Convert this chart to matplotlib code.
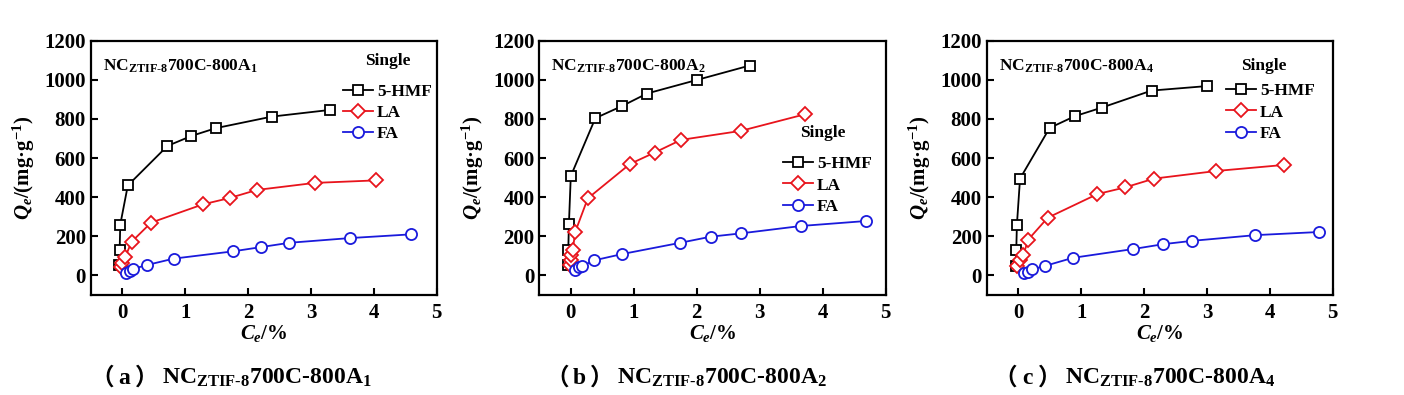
import matplotlib
matplotlib.use('Agg')
import matplotlib.pyplot as plt

plt.rcParams['font.family'] = ['Liberation Serif', 'Noto Sans CJK SC']
plt.rcParams['font.weight'] = 'bold'
plt.rcParams['mathtext.fontset'] = 'custom'
plt.rcParams['mathtext.rm'] = 'Liberation Serif:bold'
plt.rcParams['mathtext.bf'] = 'Liberation Serif:bold'
plt.rcParams['mathtext.it'] = 'Liberation Serif:italic:bold'
plt.rcParams['mathtext.default'] = 'bf'

# data, Ce in %, Qe in mg/g
hmf_x_a1 = [-0.05, -0.04, -0.03, 0.09, 0.72, 1.10, 1.49, 2.38, 3.30]
hmf_y_a1 = [55, 130, 260, 460, 662, 713, 753, 812, 846]
la_x_a1 = [-0.02, 0.00, 0.05, 0.15, 0.46, 1.28, 1.71, 2.14, 3.06, 4.04]
la_y_a1 = [45, 65, 95, 172, 270, 363, 396, 437, 473, 486]
fa_x_a1 = [0.06, 0.12, 0.18, 0.39, 0.82, 1.76, 2.21, 2.66, 3.62, 4.59]
fa_y_a1 = [14, 24, 34, 53, 86, 123, 145, 167, 191, 210]

hmf_x_a2 = [-0.05, -0.04, -0.03, 0.00, 0.39, 0.82, 1.21, 2.01, 2.84]
hmf_y_a2 = [53, 130, 262, 508, 804, 867, 930, 1000, 1073]
la_x_a2 = [-0.02, 0.00, 0.01, 0.03, 0.07, 0.27, 0.94, 1.33, 1.75, 2.70, 3.72]
la_y_a2 = [55, 78, 105, 128, 222, 394, 570, 628, 693, 739, 824]
fa_x_a2 = [0.06, 0.13, 0.18, 0.37, 0.81, 1.74, 2.22, 2.70, 3.66, 4.68]
fa_y_a2 = [27, 41, 48, 77, 109, 167, 198, 215, 253, 278]

hmf_x_a4 = [-0.04, -0.03, -0.02, 0.03, 0.50, 0.90, 1.33, 2.12, 3.00]
hmf_y_a4 = [50, 130, 259, 495, 754, 814, 858, 945, 968]
la_x_a4 = [-0.02, 0.03, 0.08, 0.16, 0.47, 1.26, 1.70, 2.16, 3.15, 4.23]
la_y_a4 = [48, 78, 102, 183, 295, 416, 450, 495, 534, 565]
fa_x_a4 = [0.10, 0.16, 0.22, 0.43, 0.87, 1.83, 2.31, 2.77, 3.77, 4.78]
fa_y_a4 = [10, 19, 31, 49, 90, 135, 160, 177, 206, 222]

subs = ['1', '2', '4']
letters = ['a', 'b', 'c']
series = ['5-HMF', 'LA', 'FA']
colors = {'5-HMF': 'black', 'LA': '#e8141c', 'FA': '#1a1adc'}
markers = {'5-HMF': 's', 'LA': 'D', 'FA': 'o'}
msizes = {'5-HMF': 7, 'LA': 7, 'FA': 8}

panels = [
    [(hmf_x_a1, hmf_y_a1), (la_x_a1, la_y_a1), (fa_x_a1, fa_y_a1)],
    [(hmf_x_a2, hmf_y_a2), (la_x_a2, la_y_a2), (fa_x_a2, fa_y_a2)],
    [(hmf_x_a4, hmf_y_a4), (la_x_a4, la_y_a4), (fa_x_a4, fa_y_a4)],
]

W, H = 1404, 395
# axes boxes in pixels: left, right, top, bottom
ax_px = [(90.7, 436.7), (539.3, 885.7), (986.7, 1332.7)]
ax_top, ax_bot = 40.7, 295.0
# "Single" centre and legend top-left (handle start, top of first row) in pixels
single_px = [(388, 61), (823, 133), (1264, 66)]
legend_px = [(343, 83.5), (783, 156), (1226, 83)]
caption_start = [162, 617, 1065]   # pixel where "NC..." begins

fig = plt.figure(figsize=(W / 100, H / 100), dpi=100)

for i, data in enumerate(panels):
    l, r = ax_px[i]
    ax = fig.add_axes([l / W, 1 - ax_bot / H, (r - l) / W, (ax_bot - ax_top) / H])

    def to_ax(px, py):
        return (px - l) / (r - l), (ax_bot - py) / (ax_bot - ax_top)

    for name, (xs, ys) in zip(series, data):
        ax.plot(xs, ys, color=colors[name], marker=markers[name],
                markersize=msizes[name], markerfacecolor='white',
                markeredgecolor=colors[name], markeredgewidth=1.3,
                linewidth=1.3, label=name)
    ax.set_xlim(-0.5, 5)
    ax.set_ylim(-100, 1200)
    ax.set_xticks(range(0, 6))
    ax.set_yticks(range(0, 1201, 200))
    ax.tick_params(direction='in', length=5, width=1.5, labelsize=15)
    ax.tick_params(axis='x', pad=6)
    for lab in ax.get_xticklabels() + ax.get_yticklabels():
        lab.set_fontweight('bold')
    for sp in ax.spines.values():
        sp.set_linewidth(1.6)
    ax.set_xlabel(r'$\mathit{C}_{\mathit{e}}\mathbf{/\%}$', fontsize=15, labelpad=0)
    ax.set_ylabel(r'$\mathit{Q}_{\mathit{e}}\mathbf{/(mg·g^{-1})}$', fontsize=15, labelpad=5)
    ax.text(0.035, 0.90, r'NC$_{\mathrm{ZTIF\text{-}8}}$700C-800A$_{%s}$' % subs[i],
            transform=ax.transAxes, fontsize=12.5, fontweight='bold', va='center')

    ax.text(*to_ax(*single_px[i]), 'Single', transform=ax.transAxes,
            ha='center', va='center', fontsize=12.5, fontweight='bold')
    leg = ax.legend(loc='upper left', bbox_to_anchor=to_ax(*legend_px[i]), frameon=False,
                    fontsize=12.5, handlelength=1.7, handletextpad=0.25,
                    labelspacing=0.3, borderaxespad=0, borderpad=0)
    for t in leg.get_texts():
        t.set_fontweight('bold')

    # caption: full-width brackets placed one by one, then the sample name
    x0 = caption_start[i]
    for dx, ch in [(-60, '（'), (-38, letters[i]), (-15.5, '）')]:
        fig.text((x0 + dx) / W, 0.043, ch, ha='center', va='center',
                 fontsize=17, fontweight='bold',
                 family=['Noto Sans CJK SC'] if ch in '（）' else ['Liberation Serif'])
    fig.text(x0 / W, 0.043, r'NC$_{\mathrm{ZTIF\text{-}8}}$700C-800A$_{%s}$' % subs[i],
             ha='left', va='center', fontsize=17, fontweight='bold')

fig.savefig('out.png', dpi=100)
